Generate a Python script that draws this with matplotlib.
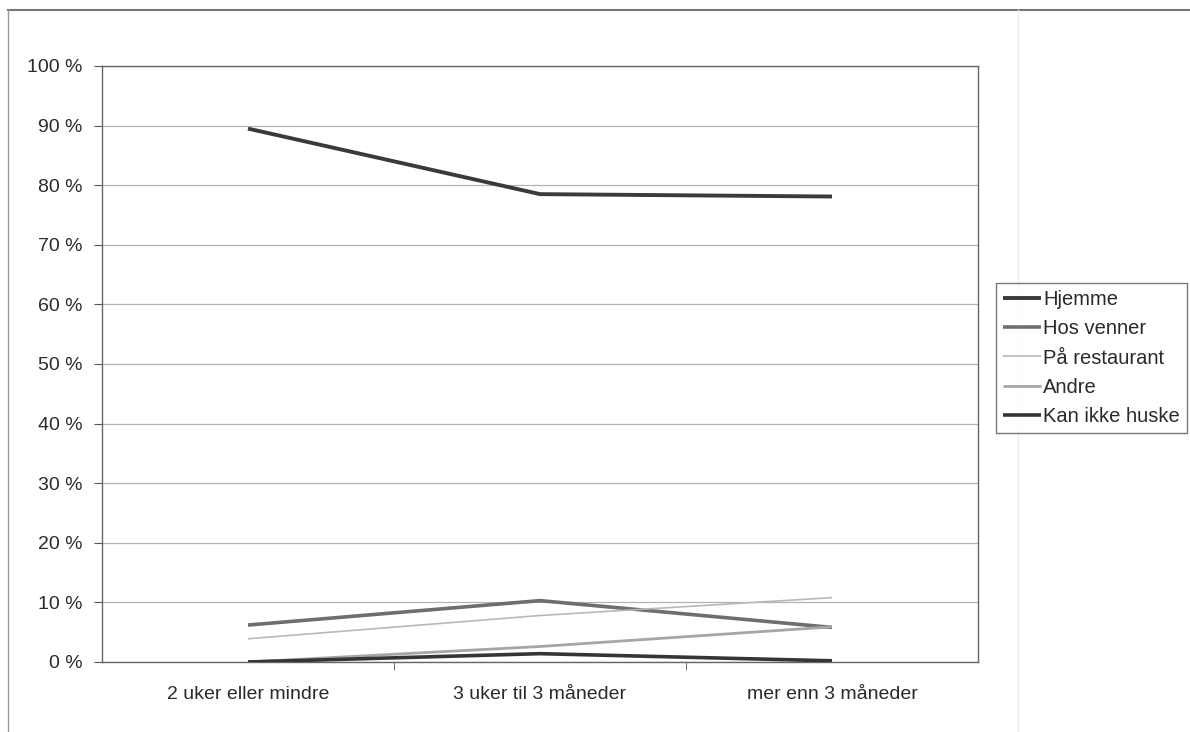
import matplotlib
matplotlib.use("Agg")
import matplotlib.pyplot as plt
from matplotlib.lines import Line2D
from matplotlib.ticker import FixedLocator

plt.rcParams["font.family"] = ["Liberation Sans", "DejaVu Sans"]

categories = ["2 uker eller mindre", "3 uker til 3 måneder", "mer enn 3 måneder"]
series_names = ["Hjemme", "Hos venner", "På restaurant", "Andre", "Kan ikke huske"]
hjemme = [89.5, 78.5, 78.1]
hos_venner = [6.2, 10.3, 5.8]
restaurant = [3.9, 7.8, 10.8]
andre = [0.0, 2.6, 5.9]
kan_ikke_huske = [0.0, 1.4, 0.2]
yticks = list(range(0, 101, 10))

values = [hjemme, hos_venner, restaurant, andre, kan_ikke_huske]
colors = ["#3a3a3a", "#6e6e6e", "#b8b8b8", "#a6a6a6", "#353535"]
widths = [2.8, 2.6, 1.2, 2.0, 2.6]

fig = plt.figure(figsize=(11.9, 7.32), dpi=100)
ax = fig.add_axes([102 / 1190, 1 - 662 / 732, (978 - 102) / 1190, (662 - 66) / 732])

x = list(range(len(categories)))
for name, vals, c, w in zip(series_names, values, colors, widths):
    ax.plot(x, vals, color=c, lw=w, label=name, solid_capstyle="butt", zorder=3)

ax.set_xlim(-0.5, len(categories) - 0.5)
ax.set_ylim(0, 100)
ax.set_yticks(yticks)
ax.set_yticklabels([f"{t} %" for t in yticks], fontsize=14, color="#2a2a2a")
ax.set_xticks(x)
ax.set_xticklabels(categories, fontsize=14, color="#2a2a2a")
ax.tick_params(axis="x", length=0, pad=17)
ax.xaxis.set_minor_locator(FixedLocator([0.5, 1.5]))
ax.tick_params(axis="x", which="minor", length=6, color="#555555", direction="out")
ax.tick_params(axis="y", length=6, color="#555555", direction="out", pad=8)
ax.grid(axis="y", color="#b4b4b4", lw=0.9, zorder=0)
for s in ax.spines.values():
    s.set_color("#666666")
    s.set_linewidth(1.0)

leg = fig.legend(loc="center left", bbox_to_anchor=(996 / 1190, 1 - 358 / 732),
                 fontsize=14.5, handlelength=1.9, handletextpad=0.1,
                 labelspacing=0.5, borderpad=0.35, borderaxespad=0,
                 fancybox=False, frameon=True)
leg.get_frame().set_edgecolor("#555555")
leg.get_frame().set_linewidth(1.0)
for t in leg.get_texts():
    t.set_color("#2a2a2a")

# scanned page frame
fig.add_artist(Line2D([8 / 1190, 1], [1 - 10 / 732, 1 - 10 / 732], color="#777777", lw=1.5))
fig.add_artist(Line2D([8 / 1190, 8 / 1190], [0, 1 - 10 / 732], color="#999999", lw=1.0))
fig.add_artist(Line2D([1018 / 1190, 1018 / 1190], [0, 1 - 10 / 732], color="#eeeeee", lw=1.0))

fig.savefig("out.png", dpi=100)
